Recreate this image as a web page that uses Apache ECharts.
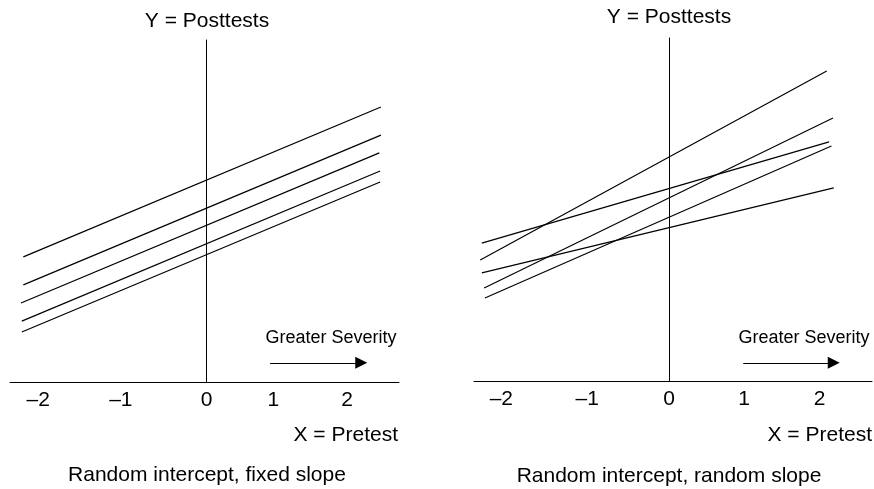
<!DOCTYPE html>
<html>
<head>
<meta charset="utf-8">
<title>Random intercept vs random slope</title>
<script src="https://cdn.jsdelivr.net/npm/echarts@6/dist/echarts.min.js"></script>
<style>
    html, body { margin: 0; padding: 0; background: #ffffff; }
    #chart { width: 874px; height: 489px; }
</style>
</head>
<body>
<div id="chart"></div>
<script>
// each line is [[x start, y start], [x end, y end]]
const fixedSlopeLines = [
    [[-2.33, 3.66], [2.22, 8.04]],
    [[-2.33, 2.84], [2.22, 7.22]],
    [[-2.36, 2.31], [2.20, 6.70]],
    [[-2.35, 1.78], [2.21, 6.17]],
    [[-2.35, 1.46], [2.21, 5.85]]
];
const randomSlopeLines = [
    [[-2.42, 3.53], [2.02, 9.04]],
    [[-2.37, 2.71], [2.10, 7.67]],
    [[-2.40, 4.02], [2.05, 6.97]],
    [[-2.36, 2.42], [2.08, 6.85]],
    [[-2.40, 3.15], [2.11, 5.63]]
];
const tickLabels = ['\u20132', '\u20131', '0', '1', '2'];
// the figure is drawn by hand, so its tick labels are not evenly spaced
const fixedTickAt = [-2.14, -1.09, 0, 0.85, 1.79];
const randomTickAt = [-2.15, -1.05, 0, 0.96, 1.93];
const fixedArrow = [[0.81, 0.56], [1.97, 0.56]];
const randomArrow = [[0.95, 0.53], [2.11, 0.53]];

const font = "'Liberation Sans', Arial, sans-serif";

const tickFormatter = (positions) => (value) => {
    let best = 0;
    positions.forEach((p, i) => {
        if (Math.abs(p - value) < Math.abs(positions[best] - value)) best = i;
    });
    return tickLabels[best];
};

const makeXAxis = (gridIndex, min, max, positions) => ({
    type: 'value',
    gridIndex: gridIndex,
    min: min,
    max: max,
    axisLine: { onZero: true, lineStyle: { color: '#000', width: 1 } },
    axisTick: { show: false },
    splitLine: { show: false },
    axisLabel: {
        customValues: positions,
        formatter: tickFormatter(positions),
        margin: 8,
        color: '#000',
        fontSize: 21,
        fontFamily: font
    }
});

const makeYAxis = (gridIndex) => ({
    type: 'value',
    gridIndex: gridIndex,
    min: 0,
    max: 10,
    axisLine: { onZero: true, lineStyle: { color: '#000', width: 1 } },
    axisTick: { show: false },
    axisLabel: { show: false },
    splitLine: { show: false }
});

const lineSeries = (lines, axisIndex) => lines.map((pts) => ({
    type: 'line',
    xAxisIndex: axisIndex,
    yAxisIndex: axisIndex,
    data: pts,
    symbol: 'none',
    silent: true,
    lineStyle: { color: '#000', width: 1.2 }
}));

const arrowSeries = (pts, axisIndex) => ({
    type: 'lines',
    coordinateSystem: 'cartesian2d',
    xAxisIndex: axisIndex,
    yAxisIndex: axisIndex,
    symbol: ['none', 'triangle'],
    symbolSize: 12,
    silent: true,
    lineStyle: { color: '#000', width: 1.2, opacity: 1 },
    data: [{ coords: pts }]
});

const textTitle = (text, x, y, align, size) => ({
    text: text,
    left: x,
    top: y,
    padding: 0,
    textAlign: align,
    textVerticalAlign: 'middle',
    textStyle: { color: '#000', fontWeight: 'normal', fontSize: size, fontFamily: font }
});

const option = {
    backgroundColor: '#ffffff',
    animation: false,
    title: [
        textTitle('Y = Posttests', 207, 21, 'center', 21),
        textTitle('Y = Posttests', 669, 17, 'center', 21),
        textTitle('X = Pretest', 398, 435, 'right', 21),
        textTitle('X = Pretest', 872, 435, 'right', 21),
        textTitle('Random intercept, fixed slope', 207, 475, 'center', 21),
        textTitle('Random intercept, random slope', 669, 476, 'center', 21),
        textTitle('Greater Severity', 331, 338, 'center', 18),
        textTitle('Greater Severity', 804, 338, 'center', 18)
    ],
    grid: [
        { left: 10, top: 40, width: 389, height: 342 },
        { left: 474, top: 38, width: 398, height: 343 }
    ],
    xAxis: [
        makeXAxis(0, -2.5, 2.45, fixedTickAt),
        makeXAxis(1, -2.5, 2.6, randomTickAt)
    ],
    yAxis: [makeYAxis(0), makeYAxis(1)],
    series: [
        ...lineSeries(fixedSlopeLines, 0),
        ...lineSeries(randomSlopeLines, 1),
        arrowSeries(fixedArrow, 0),
        arrowSeries(randomArrow, 1)
    ]
};

const chart = echarts.init(document.getElementById('chart'));
chart.setOption(option);
</script>
</body>
</html>
